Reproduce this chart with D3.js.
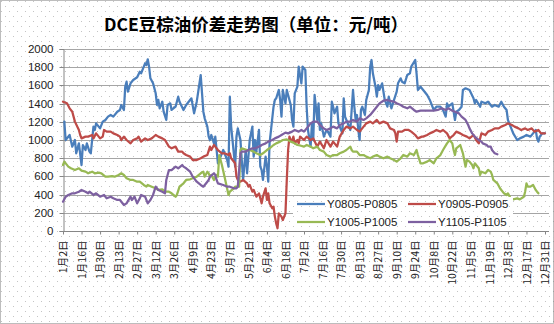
<!DOCTYPE html>
<html><head><meta charset="utf-8">
<script src="https://cdn.jsdelivr.net/npm/d3@7"></script>
<style>html,body{margin:0;padding:0;background:#fff;}svg{display:block;}</style>
</head><body>
<script>
// ---------- data ----------
const titleText = "DCE豆棕油价差走势图（单位：元/吨）";
const startDate = "2008-01-02";
const xTickLabels = ["1月2日","1月16日","1月30日","2月13日","2月27日","3月12日","3月26日","4月9日","4月23日","5月7日","5月21日","6月4日","6月18日","7月2日","7月16日","7月30日","8月13日","8月27日","9月10日","9月24日","10月8日","10月22日","11月5日","11月19日","12月3日","12月17日","12月31日"];
const yTicks = [0,200,400,600,800,1000,1200,1400,1600,1800,2000];
const seriesNames = ["Y0805-P0805","Y0905-P0905","Y1005-P1005","Y1105-P1105"];
const seriesColors = ["#4A7EBB","#BE4B48","#98B954","#7D60A0"];

// day offsets from startDate, and values (yuan/ton)
const y0805Day = [1,2,5,7,9,10,12,14,15,17,18,20,21,23,24,25,28,30,32,34,36,38,41,43,44,46,47,48,49,51,53,56,58,59,61,62,63,64,65,66,68,70,71,72,73,75,76,78,79,81,82,85,87,88,91,93,97,99,101,104,105,106,107,109,110,111,112,114,115,116,117,119,121,124,125,126,127,129,130,131,132,134,135,136,138,139,140,141,143,144,145,146,148,149,150,151,153,154,155,156,159,160,161,163,164,165,166,168,169,170,172,173,174,175,177,178,180,181,183,184,185,187,188,189,190,192,193,194,195,197,199,200,202,203,204,205,207,208,209,211,212,213,214,217,219,220,221,222,223,224,225,226,228,229,231,232,233,234,236,237,238,239,241,243,245,246,248,250,252,253,255,256,258,260,262,263,266,267,268,270,272,275,277,280,282,285,287,289,290,291,294,296,297,299,301,302,304,307,310,311,312,315,316,319,321,324,326,329,331,333,335,336,338,340,343,345,348,350,353,355,357,358,359,360,362,364];
const y0805Val = [1202,1000,1055,927,1000,854,963,725,945,890,963,872,854,1147,1110,1183,1128,1202,1220,1257,1275,1257,1311,1330,1385,1330,1586,1641,1531,1623,1659,1689,1751,1733,1806,1843,1824,1887,1806,1678,1623,1513,1385,1440,1348,1421,1311,1220,1385,1403,1330,1366,1476,1421,1330,1385,1458,1293,1421,1714,1513,1311,1238,1147,1037,1000,1055,963,1037,890,744,817,890,780,707,1476,1147,854,707,1037,1128,1000,780,561,890,634,817,1000,1147,817,1000,872,1110,707,670,561,817,707,542,963,1366,1440,1458,1550,1440,1257,1550,1403,1550,1495,1385,1220,1147,1513,1586,1806,1623,1806,1769,1366,1110,927,1183,1000,1495,1220,1403,1110,1183,1037,1110,1092,1037,1421,1366,1293,1366,1183,1147,1073,1458,1257,1220,1110,1550,1366,1220,1275,1110,1000,1330,1366,1275,1440,1550,1806,1879,1733,1586,1476,1604,1550,1623,1440,1366,1476,1348,1440,1531,1623,1678,1641,1623,1714,1733,1806,1879,1733,1550,1586,1550,1495,1440,1330,1366,1366,1330,1257,1403,1366,1403,1220,1311,1330,1366,1550,1568,1550,1458,1403,1440,1366,1421,1403,1421,1366,1385,1366,1421,1366,1330,1220,1147,1073,1000,1018,1037,1055,1037,1073,1110,1018,982,1037,1073,1073];

const y0905Day = [0,3,5,7,9,12,13,14,17,19,22,23,25,28,30,31,33,36,38,41,43,44,46,48,51,53,56,57,59,62,64,67,70,72,75,77,80,82,85,87,90,91,93,96,98,101,104,106,109,111,112,114,115,117,120,122,125,126,127,130,131,132,134,136,139,140,141,143,144,146,148,149,150,151,153,154,155,156,158,159,160,161,162,163,165,166,168,169,170,171,172,173,174,175,177,178,179,182,184,187,189,192,194,197,199,202,204,207,209,212,214,217,219,222,224,227,229,232,234,237,239,242,245,247,250,251,252,253,256,258,261,263,266,268,271,272,275,277,280,282,285,287,290,292,295,297,300,302,305,307,310,312,314,315,316,319,321,324,326,329,331,334,336,339,341,344,346,349,351,354,356,359,361,364];
const y0905Val = [1421,1403,1348,1311,1202,1110,1055,1018,1037,1037,1055,1018,1073,1018,1037,1110,1092,1092,1073,1055,1037,1000,1037,1000,963,1000,1018,1037,982,1018,1000,1018,1055,1037,1018,1000,927,909,927,872,872,854,835,817,780,780,799,817,835,927,890,945,927,890,854,854,835,854,799,744,597,561,542,561,524,487,506,432,451,377,414,359,304,377,469,341,414,304,249,268,158,84,30,194,158,121,194,561,890,1037,1000,982,1037,963,1000,963,1037,1000,1037,1000,1018,927,982,909,1000,927,982,927,1037,1110,1147,1128,1147,1110,1092,1147,1183,1202,1183,1220,1183,1202,1183,1128,1110,1073,982,1092,1092,1110,1110,1092,1055,1018,1037,1037,1055,1073,1092,1110,1092,1110,1073,1018,1055,1092,1073,1055,1037,1018,1055,1000,963,1018,1073,1055,1092,1110,1128,1128,1147,1165,1183,1165,1147,1128,1110,1128,1110,1128,1092,1110,1073,1073];

const y1005Day = [0,1,4,6,9,12,14,17,19,22,24,27,29,32,34,37,39,42,44,46,48,51,53,56,58,61,63,64,67,70,72,75,77,80,82,85,86,88,91,93,96,98,101,104,106,107,109,110,111,112,114,116,117,118,120,122,125,126,129,130,132,133,134,135,139,141,144,146,149,151,154,156,159,161,164,166,169,172,174,177,179,182,184,187,189,192,194,197,199,202,204,207,209,212,214,217,218,219,222,224,227,229,232,234,237,239,242,245,247,250,252,255,257,260,262,265,267,268,270,272,275,277,280,282,285,287,290,292,294,295,296,297,300,302,304,305,307,309,310,311,314,315,316,319,321,323,324,325,328,330,333,335,336,338,340,343,345,348,349,350,351,353,355,357,358,359];
const y1005Val = [725,762,707,689,670,689,663,652,634,652,634,641,634,597,597,604,597,616,634,616,579,561,561,542,542,506,487,506,487,469,451,458,432,432,414,377,396,487,524,561,568,579,597,634,652,597,652,634,597,616,561,616,597,835,725,597,396,432,469,487,487,487,890,909,890,890,872,854,835,854,890,909,945,963,982,1000,1007,982,971,945,940,927,945,927,909,927,890,872,835,817,835,835,854,872,890,927,890,872,872,835,835,817,799,817,835,817,799,817,799,780,762,799,835,817,854,835,890,835,744,744,762,780,744,799,835,890,963,1000,963,890,835,909,945,854,707,780,762,725,689,744,689,616,652,634,670,652,616,561,524,469,414,396,414,359,348,359,348,377,432,524,487,487,506,451,432,414];

const y1105Day = [0,2,4,7,9,12,14,17,19,20,23,25,28,31,33,36,38,41,43,46,48,51,52,54,56,58,59,62,64,66,68,70,72,75,77,78,80,82,85,87,90,91,93,96,98,101,104,106,109,110,111,114,115,116,117,121,124,126,129,131,132,134,135,138,140,143,145,148,150,153,155,158,160,163,165,168,170,173,175,178,180,182,184,187,189,192,194,197,199,202,204,207,209,212,214,217,219,222,224,227,229,232,234,237,239,242,245,247,250,252,255,257,260,262,265,267,270,275,280,283,286,289,291,294,296,299,301,304,306,307,309,311,314,316,317,320,321,323,324,325,326,328];
const y1105Val = [322,377,396,414,414,432,451,432,414,432,396,414,377,396,359,377,359,341,341,286,304,377,341,377,304,359,396,377,304,341,396,487,451,432,414,561,670,670,707,689,725,707,689,652,597,542,506,487,542,561,597,634,616,561,524,506,487,487,469,469,487,854,872,872,890,909,909,927,945,963,982,1000,1018,1037,1055,1081,1073,1092,1110,1092,1110,1092,1128,1183,1202,1202,1165,1128,1110,1128,1147,1128,1165,1183,1202,1202,1220,1202,1238,1220,1238,1275,1311,1366,1403,1432,1440,1429,1421,1403,1385,1366,1348,1366,1330,1311,1322,1322,1322,1330,1348,1330,1348,1322,1311,1293,1257,1220,1165,1128,1073,1037,1000,982,963,945,927,927,890,872,854,843];

const seriesDays = [y0805Day, y0905Day, y1005Day, y1105Day];
const seriesVals = [y0805Val, y0905Val, y1005Val, y1105Val];

// ---------- drawing ----------
const W = 554, H = 324;
const svg = d3.select("body").append("svg").attr("width", W).attr("height", H);
const defs = svg.append("defs");
const pat = defs.append("pattern").attr("id","dots").attr("patternUnits","userSpaceOnUse")
  .attr("width",8).attr("height",10);
pat.append("rect").attr("width",8).attr("height",10).attr("fill","#fff");
pat.append("rect").attr("x",1).attr("y",1).attr("width",1).attr("height",1).attr("fill","#c4c4c4");
pat.append("rect").attr("x",5).attr("y",6).attr("width",1).attr("height",1).attr("fill","#c4c4c4");

svg.append("rect").attr("width",W).attr("height",H).attr("fill","url(#dots)");
svg.append("rect").attr("x",0.5).attr("y",0.5).attr("width",W-1).attr("height",H-1)
  .attr("fill","none").attr("stroke","#7a7a7a").attr("stroke-dasharray","1,1");

const parse = d3.utcParse("%Y-%m-%d");
const t0 = parse(startDate);
const tEnd = d3.utcDay.offset(t0, 364);
const plotL = 63, plotR = 549, plotT = 49, plotB = 231;
const x = d3.scaleUtc().domain([t0, tEnd]).range([plotL, 545]);
const y = d3.scaleLinear().domain([0, 2000]).range([plotB, plotT]);

// gridlines
svg.append("g").selectAll("line").data(yTicks.filter(v => v > 0)).join("line")
  .attr("x1", plotL).attr("x2", plotR)
  .attr("y1", d => Math.round(y(d)) + 0.5).attr("y2", d => Math.round(y(d)) + 0.5)
  .attr("stroke", "#a5a5a5").attr("stroke-width", 1);

// y axis
const yAxis = d3.axisLeft(y).tickValues(yTicks).tickSize(4).tickFormat(d3.format("d"));
const gy = svg.append("g").attr("transform", `translate(${plotL + 0.5},0)`).call(yAxis);
gy.select(".domain").attr("stroke", "#868686");
gy.selectAll(".tick line").attr("stroke", "#868686");
gy.selectAll(".tick text").attr("font-family", "'Liberation Sans', Arial, sans-serif")
  .attr("font-size", 11.5).attr("fill", "#222").attr("x", -10);
gy.selectAll(".tick").attr("transform", d => `translate(0,${Math.round(y(d)) + 0.5})`);

// x axis
const xTickDates = xTickLabels.map((l, i) => d3.utcDay.offset(t0, 14 * i));
const xAxis = d3.axisBottom(x).tickValues(xTickDates).tickSize(3)
  .tickFormat((d, i) => xTickLabels[i]).tickSizeOuter(0);
const gx = svg.append("g").attr("transform", `translate(0,${plotB + 0.5})`).call(xAxis);
gx.select(".domain").attr("stroke", "#868686").attr("d", `M${plotL},0H${plotR}`);
gx.selectAll(".tick line").attr("stroke", "#868686");
gx.selectAll(".tick text")
  .attr("font-family", "'Noto Sans CJK SC', sans-serif").attr("font-size", 10.5).attr("fill", "#222")
  .attr("transform", "rotate(-90)").attr("text-anchor", "end")
  .attr("x", -9).attr("y", 0).attr("dy", "0.35em");

// series lines
const line = d3.line()
  .x(d => x(d3.utcDay.offset(t0, d[0])))
  .y(d => y(d[1]));
seriesNames.forEach((name, i) => {
  const pts = seriesDays[i].map((dd, j) => [dd, seriesVals[i][j]]);
  svg.append("path").datum(pts).attr("d", line)
    .attr("fill", "none").attr("stroke", seriesColors[i]).attr("stroke-width", 2.25)
    .attr("stroke-linejoin", "round").attr("stroke-linecap", "round");
});

// legend
const lg = svg.append("g");
lg.append("rect").attr("x", 293).attr("y", 197).attr("width", 220).attr("height", 33).attr("fill", "url(#dots)");
const legPos = [[297, 204], [408, 204], [297, 222], [408, 222]];
seriesNames.forEach((name, i) => {
  const [lx, ly] = legPos[i];
  lg.append("line").attr("x1", lx).attr("x2", lx + 28).attr("y1", ly).attr("y2", ly)
    .attr("stroke", seriesColors[i]).attr("stroke-width", 2.25);
  lg.append("text").attr("x", lx + 30).attr("y", ly).attr("dy", "0.36em")
    .attr("font-family", "'Liberation Sans', Arial, sans-serif").attr("font-size", 11.5)
    .attr("fill", "#222").text(name);
});

// title
svg.append("text").attr("x", 256).attr("y", 31).attr("text-anchor", "middle")
  .attr("font-family", "'Noto Sans CJK SC', sans-serif").attr("font-size", 17.5)
  .attr("font-weight", "bold").attr("fill", "#000").text(titleText);
</script>
</body></html>
